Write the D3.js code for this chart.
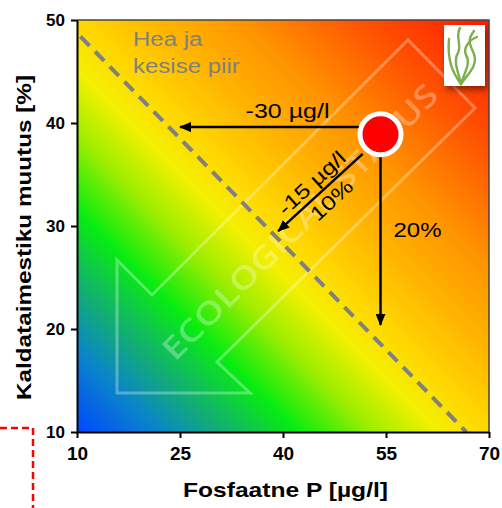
<!DOCTYPE html>
<meta charset="utf-8">
<style>
    body { margin: 0; background: #fff; }
    svg { display: block; font-family: "Liberation Sans", Arial, sans-serif; }
    .axis text { font-size: 17px; font-weight: bold; fill: #000; }
    .axis.x text { font-size: 19px; }
    .axis path, .axis line { stroke: #000; stroke-width: 2px; }
    .title { font-size: 21px; font-weight: bold; }
    .note { font-size: 20px; }
</style>
<svg width="502" height="508"></svg>
<script src="https://cdn.jsdelivr.net/npm/d3@7"></script>
<script>
    // axis ticks
    var xTicks = [10, 25, 40, 55, 70];
    var yTicks = [10, 20, 30, 40, 50];

    // dashed "good / moderate" boundary, [P, change %]
    var boundaryP = [10.5, 66.7];
    var boundaryM = [48.4, 10];

    // present state
    var stateP = 54.2;
    var stateM = 38.9;

    // reduction arrows: start / end in data units
    var arrowFromP = [54, 51.6, 54.2];
    var arrowFromM = [39.6, 37.0, 37.0];
    var arrowToP = [25, 39.3, 54.2];
    var arrowToM = [39.6, 29.5, 20.4];
    var arrowLabels = [["-30 µg/l"], ["-15 µg/l", "10%"], ["20%"]];

    var svg = d3.select("svg");
    var margin = {left: 77, top: 20, right: 13, bottom: 76};
    var W = 502 - margin.left - margin.right,
        H = 508 - margin.top - margin.bottom;

    var x = d3.scaleLinear().domain([10, 70]).range([margin.left, margin.left + W]);
    var y = d3.scaleLinear().domain([10, 50]).range([margin.top + H, margin.top]);

    // the original picture is a little wider than tall: widen text to match
    function stretch(sel, k) {
        sel.each(function () {
            var len = this.getComputedTextLength();
            d3.select(this).attr("textLength", len * k).attr("lengthAdjust", "spacingAndGlyphs");
        });
        return sel;
    }

    var defs = svg.append("defs");
    var grad = defs.append("linearGradient")
        .attr("id", "bg")
        .attr("x1", 0).attr("y1", 1).attr("x2", 1).attr("y2", 0);
    [[0, "#0048ff"], [0.1, "#0a84c8"], [0.18, "#12b070"], [0.27, "#08ec10"],
     [0.36, "#9cee00"], [0.44, "#f4f000"], [0.5, "#ffd800"], [0.6, "#ffb400"],
     [0.7, "#ff9400"], [0.84, "#ff5400"], [1, "#ff1800"]].forEach(function (s) {
        grad.append("stop").attr("offset", s[0]).attr("stop-color", s[1]);
    });

    defs.append("marker")
        .attr("id", "head")
        .attr("viewBox", "0 0 12 10")
        .attr("refX", 11).attr("refY", 5)
        .attr("markerWidth", 12).attr("markerHeight", 10)
        .attr("markerUnits", "userSpaceOnUse")
        .attr("orient", "auto")
        .append("path").attr("d", "M0,0L12,5L0,10Z").attr("fill", "#000");

    var shadow = defs.append("filter").attr("id", "shadow")
        .attr("x", "-30%").attr("y", "-30%").attr("width", "160%").attr("height", "160%");
    shadow.append("feDropShadow").attr("dx", 2).attr("dy", 4)
        .attr("stdDeviation", 3).attr("flood-color", "#000").attr("flood-opacity", 0.45);

    // background field
    svg.append("rect")
        .attr("x", x(10)).attr("y", y(50))
        .attr("width", x(70) - x(10)).attr("height", y(10) - y(50))
        .attr("fill", "url(#bg)");

    // watermark arrow
    var wm = svg.append("g").attr("opacity", 0.3);
    wm.append("path")
        .attr("d", "M117,393L117,260L152,295L408,40L475,108L217,362L250,393Z")
        .attr("fill", "none").attr("stroke", "#fff").attr("stroke-width", 3)
        .attr("stroke-linejoin", "miter");
    wm.append("text")
        .attr("transform", "translate(300,222) rotate(-45)")
        .attr("text-anchor", "middle")
        .attr("dy", "0.35em")
        .attr("fill", "#fff")
        .attr("textLength", 375).attr("lengthAdjust", "spacingAndGlyphs")
        .style("font-size", "31px")
        .style("font-family", "'Open Sans', sans-serif")
        .style("font-weight", 600)
        .text("ECOLOGICAL STATUS");

    // boundary
    svg.append("line")
        .attr("x1", x(boundaryP[0])).attr("y1", y(boundaryM[0]))
        .attr("x2", x(boundaryP[1])).attr("y2", y(boundaryM[1]))
        .attr("stroke", "#808080").attr("stroke-width", 4)
        .attr("stroke-dasharray", "13 8");

    stretch(svg.append("text").attr("class", "note")
        .attr("x", 133).attr("y", 46).attr("fill", "#808080").text("Hea ja"), 1.2);
    stretch(svg.append("text").attr("class", "note")
        .attr("x", 133).attr("y", 73).attr("fill", "#808080").text("kesise piir"), 1.2);

    // arrows
    arrowFromP.forEach(function (p, i) {
        svg.append("line")
            .attr("x1", x(p)).attr("y1", y(arrowFromM[i]))
            .attr("x2", x(arrowToP[i])).attr("y2", y(arrowToM[i]))
            .attr("stroke", "#000").attr("stroke-width", 2.5)
            .attr("marker-end", "url(#head)");
    });

    // labels next to arrows
    var hx = (x(arrowFromP[0]) + x(arrowToP[0])) / 2 + 8, hy = y(arrowFromM[0]);
    stretch(svg.append("text").attr("class", "note")
        .attr("x", hx).attr("y", hy - 9).attr("text-anchor", "middle")
        .text(arrowLabels[0][0]), 1.25);

    var dx0 = x(arrowFromP[1]), dy0 = y(arrowFromM[1]),
        dx1 = x(arrowToP[1]), dy1 = y(arrowToM[1]);
    var ang = Math.atan2(dy0 - dy1, dx0 - dx1) * 180 / Math.PI;
    var mx = (dx0 + dx1) / 2, my = (dy0 + dy1) / 2;
    stretch(svg.append("text").attr("class", "note")
        .attr("transform", "translate(" + mx + "," + my + ") rotate(" + ang + ")")
        .attr("text-anchor", "middle").attr("x", 0).attr("y", -6)
        .text(arrowLabels[1][0]), 1.25);
    stretch(svg.append("text").attr("class", "note")
        .attr("transform", "translate(" + mx + "," + my + ") rotate(" + ang + ")")
        .attr("text-anchor", "middle").attr("x", 3).attr("y", 20)
        .text(arrowLabels[1][1]), 1.25);

    stretch(svg.append("text").attr("class", "note")
        .attr("x", x(arrowFromP[2]) + 13)
        .attr("y", 237)
        .text(arrowLabels[2][0]), 1.2);

    // present state
    svg.append("circle")
        .attr("cx", x(stateP)).attr("cy", y(stateM)).attr("r", 20.5)
        .attr("fill", "#ff0000").attr("stroke", "#fff").attr("stroke-width", 5);

    // logo
    var logo = svg.append("g").attr("transform", "translate(444,25)");
    logo.append("rect").attr("width", 41).attr("height", 61)
        .attr("fill", "#fff").attr("filter", "url(#shadow)");
    logo.selectAll("path")
        .data([
            "M17,59 C9,48 3,36 5,14",
            "M17,59 C14,46 9,36 14,28 C18,20 11,11 16,3",
            "M17,59 C25,48 34,40 30,29 C27,21 22,16 30,6",
            "M17,59 C21,46 27,38 22,30 C19,23 25,15 33,12"
        ])
        .enter().append("path")
        .attr("d", function (d) { return d; })
        .attr("fill", "none").attr("stroke", "#7db04c")
        .attr("stroke-width", 2.4).attr("stroke-linecap", "round");

    // frame
    svg.append("path")
        .attr("d", "M" + x(10) + "," + y(50) + "H" + x(70) + "V" + y(10))
        .attr("fill", "none").attr("stroke", "#444").attr("stroke-width", 1.5);

    // axes
    svg.append("g").attr("class", "axis x")
        .attr("transform", "translate(0," + y(10) + ")")
        .call(d3.axisBottom(x).tickValues(xTicks).tickSize(6).tickSizeOuter(0).tickPadding(9));
    svg.append("g").attr("class", "axis")
        .attr("transform", "translate(" + x(10) + ",0)")
        .call(d3.axisLeft(y).tickValues(yTicks).tickSize(6).tickSizeOuter(0).tickPadding(6));

    svg.append("text").attr("class", "title")
        .attr("x", 285.5).attr("y", 497).attr("text-anchor", "middle")
        .attr("textLength", 205).attr("lengthAdjust", "spacingAndGlyphs")
        .text("Fosfaatne P [µg/l]");
    svg.append("text").attr("class", "title")
        .attr("transform", "translate(31,237.5) rotate(-90)")
        .attr("text-anchor", "middle")
        .attr("textLength", 325).attr("lengthAdjust", "spacingAndGlyphs")
        .text("Kaldataimestiku muutus [%]");

    // red dashed corner
    svg.append("path")
        .attr("d", "M0,428H33V508")
        .attr("fill", "none").attr("stroke", "#ff0000")
        .attr("stroke-width", 2.5).attr("stroke-dasharray", "7 4");
</script>
